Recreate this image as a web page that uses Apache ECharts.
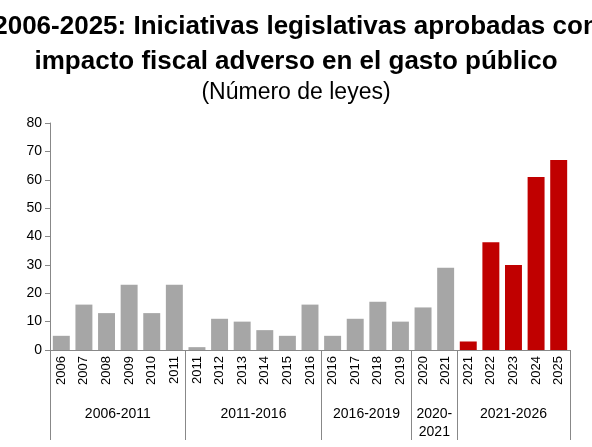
<!DOCTYPE html>
<html><head><meta charset="utf-8">
<script src="https://cdn.jsdelivr.net/npm/echarts@6/dist/echarts.min.js"></script>
<style>html,body{margin:0;padding:0;background:#fff}#c{width:592px;height:447px}</style>
</head><body><div id="c"></div>
<script>
const years = ["2006","2007","2008","2009","2010","2011","2011","2012","2013","2014","2015","2016","2016","2017","2018","2019","2020","2021","2021","2022","2023","2024","2025"];
const values = [5,16,13,23,13,23,1,11,10,7,5,16,5,11,17,10,15,29,3,38,30,61,67];
const highlightFrom = 18;
const groups = ["2006-2011","2011-2016","2016-2019","2020-\n2021","2021-2026"];
const groupCenters = [3,9,14,17,20.5];
const groupBounds = [0,6,12,16,18,23];

const chart = echarts.init(document.getElementById("c"));
const font = "Liberation Sans, Arial, sans-serif";
chart.setOption({
  animation: false,
  title: [
    {text: "2006-2025: Iniciativas legislativas aprobadas con\nimpacto fiscal adverso en el gasto público",
     left: "center", top: 4,
     textStyle: {fontFamily: "Liberation Sans Narrow, Arial Narrow, sans-serif", fontSize: 26, fontWeight: "bold", color: "#000", lineHeight: 35}},
    {text: "(Número de leyes)", left: "center", top: 76,
     textStyle: {fontFamily: font, fontSize: 23, fontWeight: "normal", color: "#000"}}
  ],
  grid: {left: 50, right: 22, top: 123, bottom: 97},
  xAxis: [
    {type: "category", data: years, position: "bottom",
     axisLine: {lineStyle: {color: "#888"}},
     axisTick: {length: 38, lineStyle: {color: "#888"}},
     axisLabel: {rotate: 90, interval: 0, fontFamily: font, fontSize: 13, color: "#000", margin: 6}},
    {type: "value", min: 0, max: 23, position: "bottom",
     axisLine: {show: false}, splitLine: {show: false},
     axisTick: {show: true, length: 90, customValues: groupBounds, lineStyle: {color: "#888"}},
     axisLabel: {customValues: groupCenters, margin: 55, fontFamily: font, fontSize: 14, color: "#000",
       lineHeight: 18, verticalAlign: "top",
       formatter: v => groups[groupCenters.indexOf(v)] || ""}}
  ],
  yAxis: {type: "value", min: 0, max: 80, interval: 10,
    axisLine: {show: true, lineStyle: {color: "#888"}},
    axisTick: {show: true, lineStyle: {color: "#888"}},
    splitLine: {show: false},
    axisLabel: {fontFamily: font, fontSize: 14, color: "#000"}},
  series: [{type: "bar", xAxisIndex: 0, barWidth: "75%",
    data: values.map((v, i) => ({value: v, itemStyle: {color: i >= highlightFrom ? "#C00000" : "#A6A6A6"}}))}]
});
</script></body></html>
